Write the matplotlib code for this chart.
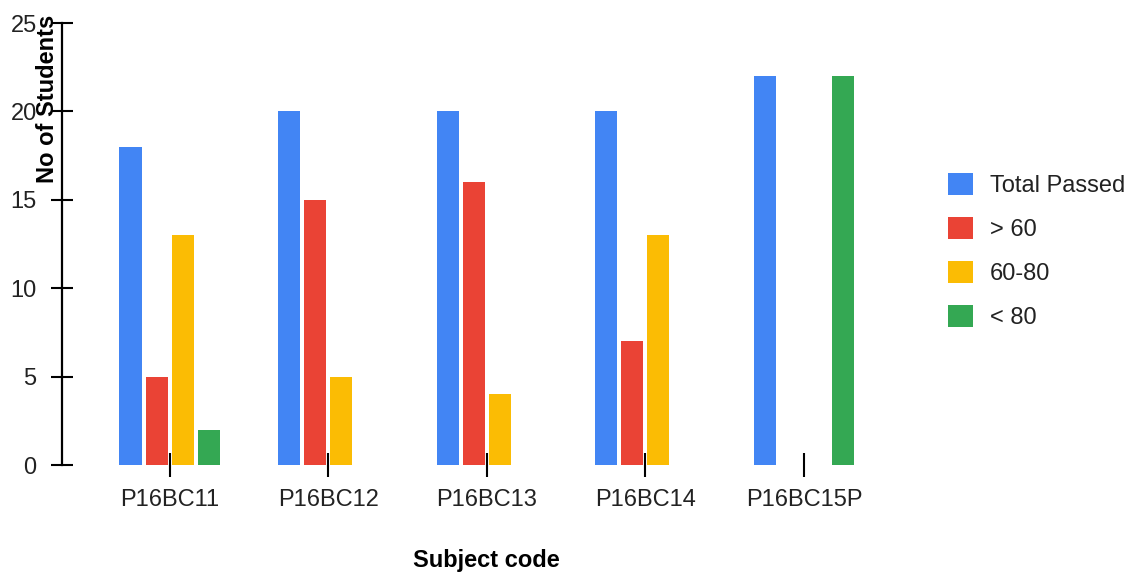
import numpy as np
import matplotlib.pyplot as plt

plt.rcParams['font.family'] = ['Liberation Sans', 'DejaVu Sans']

subjects = ['P16BC11', 'P16BC12', 'P16BC13', 'P16BC14', 'P16BC15P']
series = ['Total Passed', '> 60', '60-80', '< 80']
total_passed = [18, 20, 20, 20, 22]
above_60 = [5, 15, 16, 7, 0]
from_60_80 = [13, 5, 4, 13, 0]
below_80 = [2, 0, 0, 0, 22]
yticks = [0, 5, 10, 15, 20, 25]

colors = ['#4285F4', '#EA4335', '#FBBC04', '#34A853']
vals = [total_passed, above_60, from_60_80, below_80]

fig = plt.figure(figsize=(11.29, 5.74), dpi=100)
ax = fig.add_axes([62/1129, 1-465/574, (911.5-62)/1129, (465-23)/574])

x = np.arange(len(subjects))
pitch = 0.164
width = 0.139
for i, (v, c, lab) in enumerate(zip(vals, colors, series)):
    ax.bar(x + (i - 1.5)*pitch, v, width, color=c, label=lab, linewidth=0)

ax.set_xlim(-0.678, len(subjects) - 1 + 0.678)
ax.set_ylim(0, 25)
ax.set_yticks(yticks)
ax.set_xticks(x)
ax.set_xticklabels(subjects)

for s in ['top', 'right', 'bottom']:
    ax.spines[s].set_visible(False)
ax.spines['left'].set_linewidth(1.6)

ax.tick_params(axis='y', direction='inout', length=16.5, width=1.5, pad=10,
               labelsize=17, labelcolor='#222222')
ax.tick_params(axis='x', direction='inout', length=17, width=1.5, pad=9,
               labelsize=17, labelcolor='#222222')

ax.set_ylabel('No of Students', fontsize=17, fontweight='bold', va='center')
ax.yaxis.set_label_coords(-14/849.5, (465-99)/442)
fig.text(486/1129, 1-561/574, 'Subject code', fontsize=17, fontweight='bold',
         ha='center', va='center')

leg = fig.legend(loc='center left', bbox_to_anchor=(948/1129, 1-251/574),
                 frameon=False, fontsize=17, handlelength=1.06, handleheight=1.06,
                 handletextpad=0.72, labelspacing=0.84, borderpad=0, borderaxespad=0)
for t in leg.get_texts():
    t.set_color('#222222')

fig.savefig('out.png', dpi=100)
